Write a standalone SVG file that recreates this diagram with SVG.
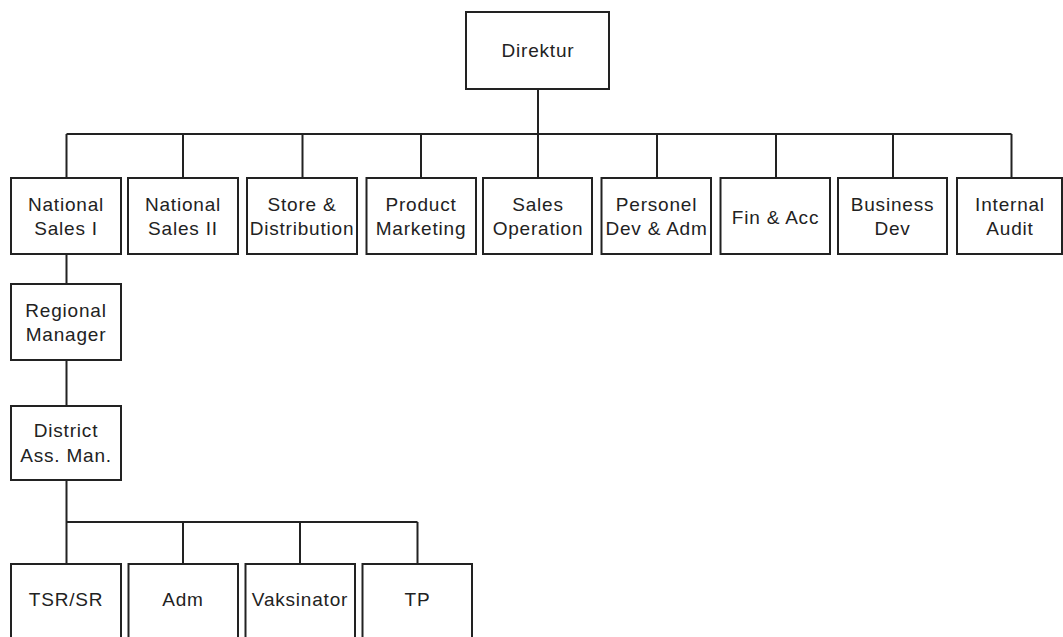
<svg xmlns="http://www.w3.org/2000/svg" width="1063" height="637" viewBox="0 0 1063 637">
<style>
.box{fill:#fff;stroke:#222;stroke-width:2}
.ln{fill:none;stroke:#222;stroke-width:2}
text{font-family:"Liberation Sans",Arial,sans-serif;font-size:19px;letter-spacing:0.8px;fill:#222;text-anchor:middle}
</style>
<rect width="1063" height="637" fill="#fff"/>
<g id="connectors">
<path class="ln" d="M538 89V134M66.5 134H1011.5M66.5 134V178M183 134V178M302.5 134V178M421 134V178M538 134V178M657 134V178M776 134V178M893 134V178M1011.5 134V178"/>
<path class="ln" d="M66.5 254V284M66.5 360V406M66.5 480V522M66.5 522H417.5M66.5 522V564M183 522V564M300 522V564M417.5 522V564"/>
</g>
<g id="direktur"><rect class="box" x="466" y="12" width="143" height="77"/><text x="538" y="57">Direktur</text></g>
<g id="national-sales-1"><rect class="box" x="11" y="178" width="110" height="76"/><text x="66" y="211">National</text><text x="66" y="235">Sales I</text></g>
<g id="national-sales-2"><rect class="box" x="128" y="178" width="110" height="76"/><text x="183" y="211">National</text><text x="183" y="235">Sales II</text></g>
<g id="store-distribution"><rect class="box" x="247" y="178" width="110" height="76"/><text x="302" y="211">Store &amp;</text><text x="302" y="235">Distribution</text></g>
<g id="product-marketing"><rect class="box" x="366.5" y="178" width="109.5" height="76"/><text x="421" y="211">Product</text><text x="421" y="235">Marketing</text></g>
<g id="sales-operation"><rect class="box" x="483" y="178" width="109" height="76"/><text x="538" y="211">Sales</text><text x="538" y="235">Operation</text></g>
<g id="personel-dev-adm"><rect class="box" x="601.5" y="178" width="109.5" height="76"/><text x="656.5" y="211">Personel</text><text x="656.5" y="235">Dev &amp; Adm</text></g>
<g id="fin-acc"><rect class="box" x="720.5" y="178" width="109.5" height="76"/><text x="775.5" y="224">Fin &amp; Acc</text></g>
<g id="business-dev"><rect class="box" x="838" y="178" width="109" height="76"/><text x="892.5" y="211">Business</text><text x="892.5" y="235">Dev</text></g>
<g id="internal-audit"><rect class="box" x="957" y="178" width="105" height="76"/><text x="1010" y="211">Internal</text><text x="1010" y="235">Audit</text></g>
<g id="regional-manager"><rect class="box" x="11" y="284" width="110" height="76"/><text x="66" y="317">Regional</text><text x="66" y="341">Manager</text></g>
<g id="district-ass-man"><rect class="box" x="11" y="406" width="110" height="74"/><text x="66" y="437">District</text><text x="66" y="462">Ass. Man.</text></g>
<g id="tsr-sr"><rect class="box" x="11" y="564" width="110" height="90"/><text x="66" y="606">TSR/SR</text></g>
<g id="adm"><rect class="box" x="128.5" y="564" width="109.5" height="90"/><text x="183" y="606">Adm</text></g>
<g id="vaksinator"><rect class="box" x="245.5" y="564" width="109.5" height="90"/><text x="300" y="606">Vaksinator</text></g>
<g id="tp"><rect class="box" x="362.5" y="564" width="109.5" height="90"/><text x="417.5" y="606">TP</text></g>
</svg>
